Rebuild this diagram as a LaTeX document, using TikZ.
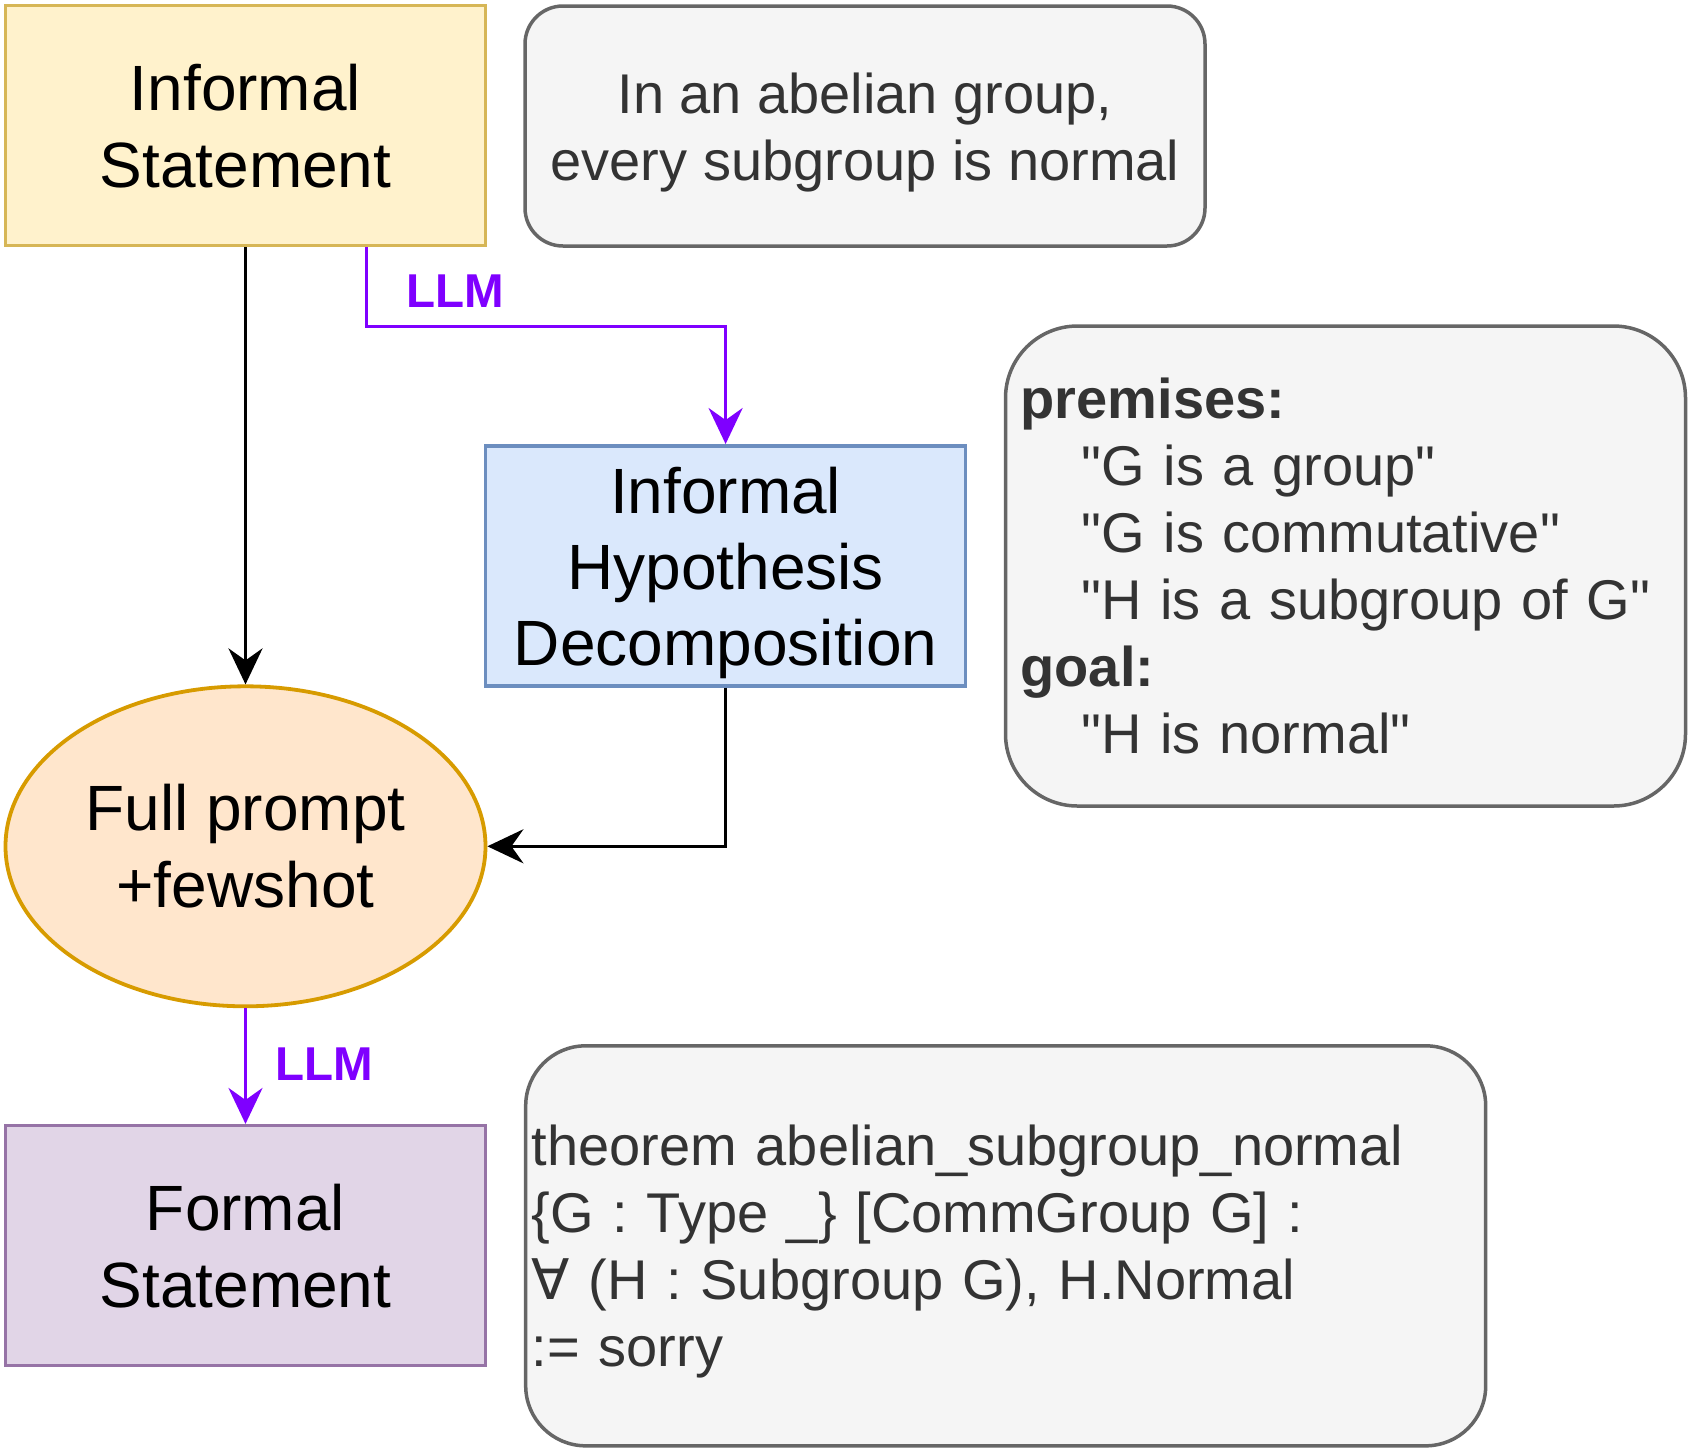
\documentclass[tikz,border=0pt]{standalone}
\usepackage{fontspec}
\setmainfont{Liberation Sans}
\newfontfamily\qfont{Liberation Sans}
\newfontfamily\dejavu{DejaVu Sans}
\usetikzlibrary{shapes.geometric,arrows.meta,calc}
\definecolor{yfill}{HTML}{FFF2CC}
\definecolor{ystroke}{HTML}{D6B656}
\definecolor{bfill}{HTML}{DAE8FC}
\definecolor{bstroke}{HTML}{6C8EBF}
\definecolor{ofill}{HTML}{FFE6CC}
\definecolor{ostroke}{HTML}{D79B00}
\definecolor{pfill}{HTML}{E1D5E7}
\definecolor{pstroke}{HTML}{9673A6}
\definecolor{gfill}{HTML}{F5F5F5}
\definecolor{gstroke}{HTML}{666666}
\definecolor{gtext}{HTML}{333333}
\definecolor{llm}{HTML}{7F00FF}
\begin{document}
\frenchspacing
\begin{tikzpicture}[x=1pt,y=-1pt,
  box/.style={draw, line width=3.5pt, minimum width=480pt, minimum height=240pt, inner sep=0pt, align=center, font=\fontsize{64}{77}\selectfont},
  note/.style={draw=gstroke, fill=gfill, line width=3.5pt, text=gtext, inner sep=0pt, font=\fontsize{56}{67}\selectfont},
  arr/.style={line width=3.5pt, -{Stealth[length=36pt,width=34pt,inset=12pt]}},
  llmlabel/.style={text=llm, font=\fontsize{47.5}{56}\selectfont\bfseries, inner sep=0pt}
]
\useasboundingbox (0,0) rectangle (1692,1452);

\node[box, fill=yfill, draw=ystroke] (IS) at (245.5,125.7) {Informal\\Statement};
\node[note, rounded corners=38pt, minimum width=680pt, minimum height=240pt, align=center] (N1) at (865,126) {\rule{0pt}{54pt}In an abelian group,\\every subgroup is normal};

\node[box, fill=bfill, draw=bstroke, font=\fontsize{64}{76}\selectfont] (HD) at (725.6,565.8) {\rule{0pt}{60pt}Informal\\Hypothesis\\Decomposition};
\node[note, rounded corners=72pt, minimum width=680pt, minimum height=480pt, text width=650pt, inner xsep=15pt, align=left, font=\qfont\fontsize{56}{67}\selectfont] (N2) at (1345.5,566) {\textbf{premises:}\\
\hspace*{61pt}"G is a group"\\
\hspace*{61pt}"G is commutative"\\
\hspace*{61pt}"H is a subgroup of G"\\
\textbf{goal:}\\
\hspace*{61pt}"H is normal"};

\node[ellipse, draw=ostroke, fill=ofill, line width=3.8pt, minimum width=480pt, minimum height=320pt, inner sep=0pt, align=center, font=\fontsize{64}{77}\selectfont] (FP) at (245.5,846.3) {Full prompt\\+fewshot};

\node[box, fill=pfill, draw=pstroke] (FS) at (245.5,1245.7) {Formal\\Statement};
\node[note, rounded corners=60pt, minimum width=960pt, minimum height=400pt, text width=948pt, inner xsep=6pt, align=left] (N3) at (1005.7,1245.8) {\rule{0pt}{52pt}theorem abelian\_subgroup\_normal\\
\{G : Type \_\} [CommGroup G] :\\
{\dejavu ∀} (H : Subgroup G), H.Normal\\
:= sorry};

% connectors
\draw[arr] (IS.south) -- (FP.north);
\coordinate (LS) at ($(IS.south west)!0.75!(IS.south east)$);
\draw[arr, draw=llm] (LS) -- ++(0,79) -| (HD.north);
\draw[arr] (HD.south) |- (FP.east);
\draw[arr, draw=llm] (FP.south) -- (FS.north);

\node[llmlabel] (L1) at (455.5,291) {LLM};
\node[llmlabel] (L2) at (324,1064) {LLM};
\end{tikzpicture}
\end{document}
